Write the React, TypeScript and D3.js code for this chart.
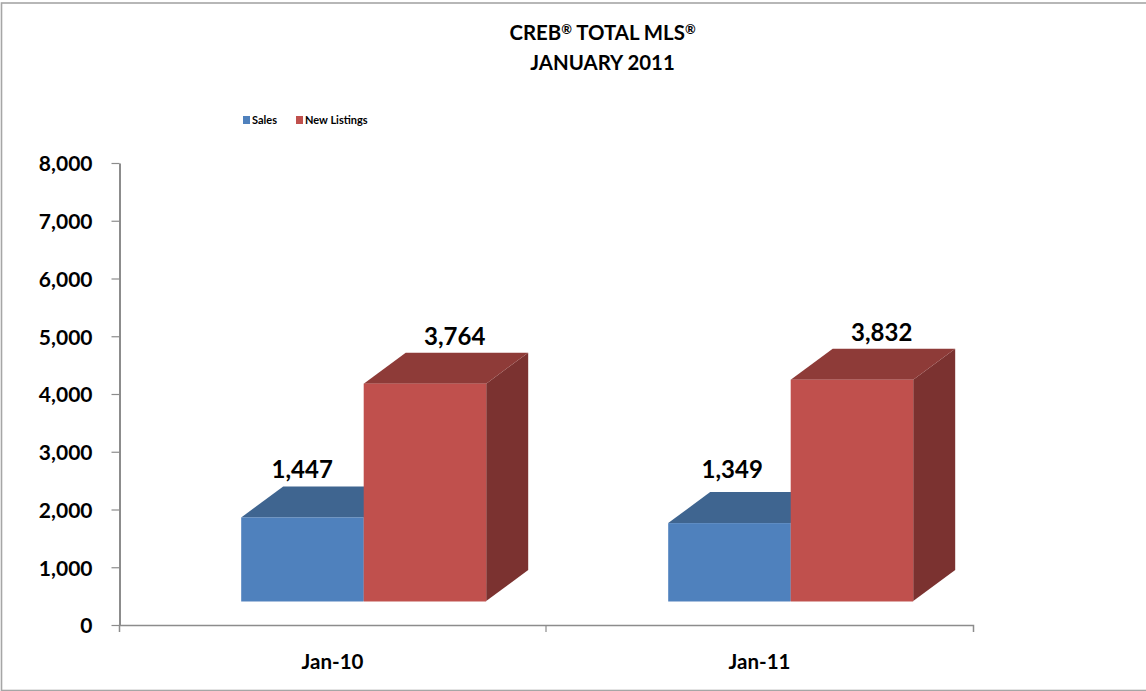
import * as d3 from "d3";
import { useEffect, useRef } from "react";

const categories = ["Jan-10", "Jan-11"];
const seriesNames = ["Sales", "New Listings"];
const sales = [1447, 1349];
const newListings = [3764, 3832];
const yTicks = [0, 1000, 2000, 3000, 4000, 5000, 6000, 7000, 8000];
const titleLines = ["CREB® TOTAL MLS®", "JANUARY 2011"];

const FONT = "Lato, 'Open Sans', sans-serif";
const faceColors = ["#4f81bd", "#c0504d"];
const topColors = ["#3f6590", "#8e3b38"];
const sideColors = ["#345475", "#7b3230"];
const edgeColors = ["#a9c0de", "#dfa9a7"];

export default function App() {
  const svgRef = useRef<SVGSVGElement>(null);

  useEffect(() => {
    if (!svgRef.current) return;
    const width = 1146;
    const height = 691;
    const svg = d3.select<SVGSVGElement, unknown>(svgRef.current);
    svg.selectAll("*").remove();
    svg
      .attr("width", width)
      .attr("height", height)
      .style("position", "absolute")
      .style("left", 0)
      .style("top", 0)
      .style("background", "#fff");

    // Chart frame, the right side runs off the picture
    svg
      .append("rect")
      .attr("x", 1.5)
      .attr("y", 3)
      .attr("width", 1160)
      .attr("height", 687.5)
      .attr("fill", "#fff")
      .attr("stroke", "#a6a6a6")
      .attr("stroke-width", 1.6);

    // Title, ® is set as a small superscript
    const title = svg
      .append("g")
      .selectAll("text")
      .data(titleLines)
      .enter()
      .append("text")
      .attr("x", 602.5)
      .attr("y", (_, i) => 40 + i * 30)
      .attr("text-anchor", "middle")
      .attr("font-family", FONT)
      .attr("font-weight", 700)
      .attr("font-size", 20.4);
    title.each(function (line) {
      const t = d3.select(this);
      let raised = false;
      line.split(/(®)/).filter(Boolean).forEach((part) => {
        const isMark = part === "®";
        t.append("tspan")
          .attr("font-size", isMark ? 13 : 20.4)
          .attr("dy", isMark ? -6 : raised ? 6 : 0)
          .text(part);
        raised = isMark;
      });
    });

    // Scales
    const xScale = d3.scaleBand<string>().domain(categories).range([119, 973]);
    const seriesScale = d3
      .scaleBand<string>()
      .domain(seriesNames)
      .range([122.7, 367.7]);
    const yScale = d3.scaleLinear().domain([0, 8000]).range([625, 163]);

    // Axes
    const yAxis = d3
      .axisLeft(yScale)
      .tickValues(yTicks)
      .tickFormat(d3.format(","))
      .tickSize(8)
      .tickPadding(19)
      .tickSizeOuter(0);
    const yG = svg.append("g").attr("transform", "translate(119.5,0)").call(yAxis);
    yG.select(".domain").attr("stroke", "#8c8c8c").attr("stroke-width", 2);
    yG.selectAll(".tick line").attr("stroke", "#8c8c8c").attr("stroke-width", 1.2);
    yG.selectAll(".tick text")
      .attr("fill", "#000")
      .attr("font-family", FONT)
      .attr("font-weight", 700)
      .attr("font-size", 21)
      .attr("dy", "0.37em");

    const xAxis = d3.axisBottom(xScale).tickSize(0).tickPadding(29).tickSizeOuter(7);
    const xG = svg.append("g").attr("transform", "translate(0,625)").call(xAxis);
    xG.select(".domain").attr("stroke", "#8c8c8c").attr("stroke-width", 1.5);
    xG.selectAll(".tick text")
      .attr("fill", "#000")
      .attr("font-family", FONT)
      .attr("font-weight", 700)
      .attr("font-size", 20.5);
    // Divider tick between the two categories
    xG.append("line")
      .attr("x1", xScale("Jan-11") as number)
      .attr("x2", xScale("Jan-11") as number)
      .attr("y1", 0)
      .attr("y2", 7)
      .attr("stroke", "#8c8c8c")
      .attr("stroke-width", 1.2);

    // 3D bars: the front face floats above the axis, as in the original
    const floorLift = 24;
    const depthX = 42;
    const depthY = 31;
    const barW = seriesScale.bandwidth();
    const baseY = yScale(0) - floorLift;

    const rows = categories.flatMap((cat, c) => [
      { cat, c, s: 0, value: sales[c] },
      { cat, c, s: 1, value: newListings[c] },
    ]);

    const bars = svg
      .append("g")
      .selectAll("g")
      .data(rows)
      .enter()
      .append("g")
      .attr("transform", (d) => {
        const x = (xScale(d.cat) as number) + (seriesScale(seriesNames[d.s]) as number) - 0.5;
        return `translate(${x},0)`;
      });

    const topOf = (v: number) => yScale(v) - floorLift;

    bars
      .append("path")
      .attr("fill", (d) => sideColors[d.s])
      .attr(
        "d",
        (d) =>
          `M${barW},${topOf(d.value)}L${barW + depthX},${topOf(d.value) - depthY}L${barW + depthX},${baseY - depthY}L${barW},${baseY}Z`
      );
    bars
      .append("path")
      .attr("fill", (d) => topColors[d.s])
      .attr(
        "d",
        (d) =>
          `M0,${topOf(d.value)}L${depthX},${topOf(d.value) - depthY}L${barW + depthX},${topOf(d.value) - depthY}L${barW},${topOf(d.value)}Z`
      );
    bars
      .append("rect")
      .attr("x", 0)
      .attr("y", (d) => topOf(d.value))
      .attr("width", barW)
      .attr("height", (d) => baseY - topOf(d.value))
      .attr("fill", (d) => faceColors[d.s]);
    // Pale bottom edge of the front faces
    bars
      .append("line")
      .attr("x1", 0)
      .attr("x2", barW)
      .attr("y1", baseY + 0.5)
      .attr("y2", baseY + 0.5)
      .attr("stroke", (d) => edgeColors[d.s]);

    // Value labels, placed by hand in the original
    const labelDx = [[0, 0], [3, 0]];
    const labelDy = [[8, 8], [14, 8]];
    bars
      .append("text")
      .attr("x", (d) => (d.s === 0 ? 61 : 91) + labelDx[d.c][d.s])
      .attr("y", (d) => topOf(d.value) - depthY - labelDy[d.c][d.s])
      .attr("text-anchor", "middle")
      .attr("font-family", FONT)
      .attr("font-weight", 700)
      .attr("font-size", 24)
      .attr("fill", "#000")
      .text((d) => d3.format(",")(d.value));

    // Legend
    const legendX = [243, 296];
    const legend = svg
      .append("g")
      .selectAll("g")
      .data(seriesNames)
      .enter()
      .append("g")
      .attr("transform", (_, i) => `translate(${legendX[i]},116)`);
    legend
      .append("rect")
      .attr("width", 7)
      .attr("height", 8)
      .attr("fill", (_, i) => faceColors[i]);
    legend
      .append("text")
      .attr("x", 9)
      .attr("y", 8)
      .attr("font-family", FONT)
      .attr("font-weight", 700)
      .attr("font-size", 11)
      .text((d) => d);
  }, []);

  return <svg ref={svgRef}></svg>;
}
